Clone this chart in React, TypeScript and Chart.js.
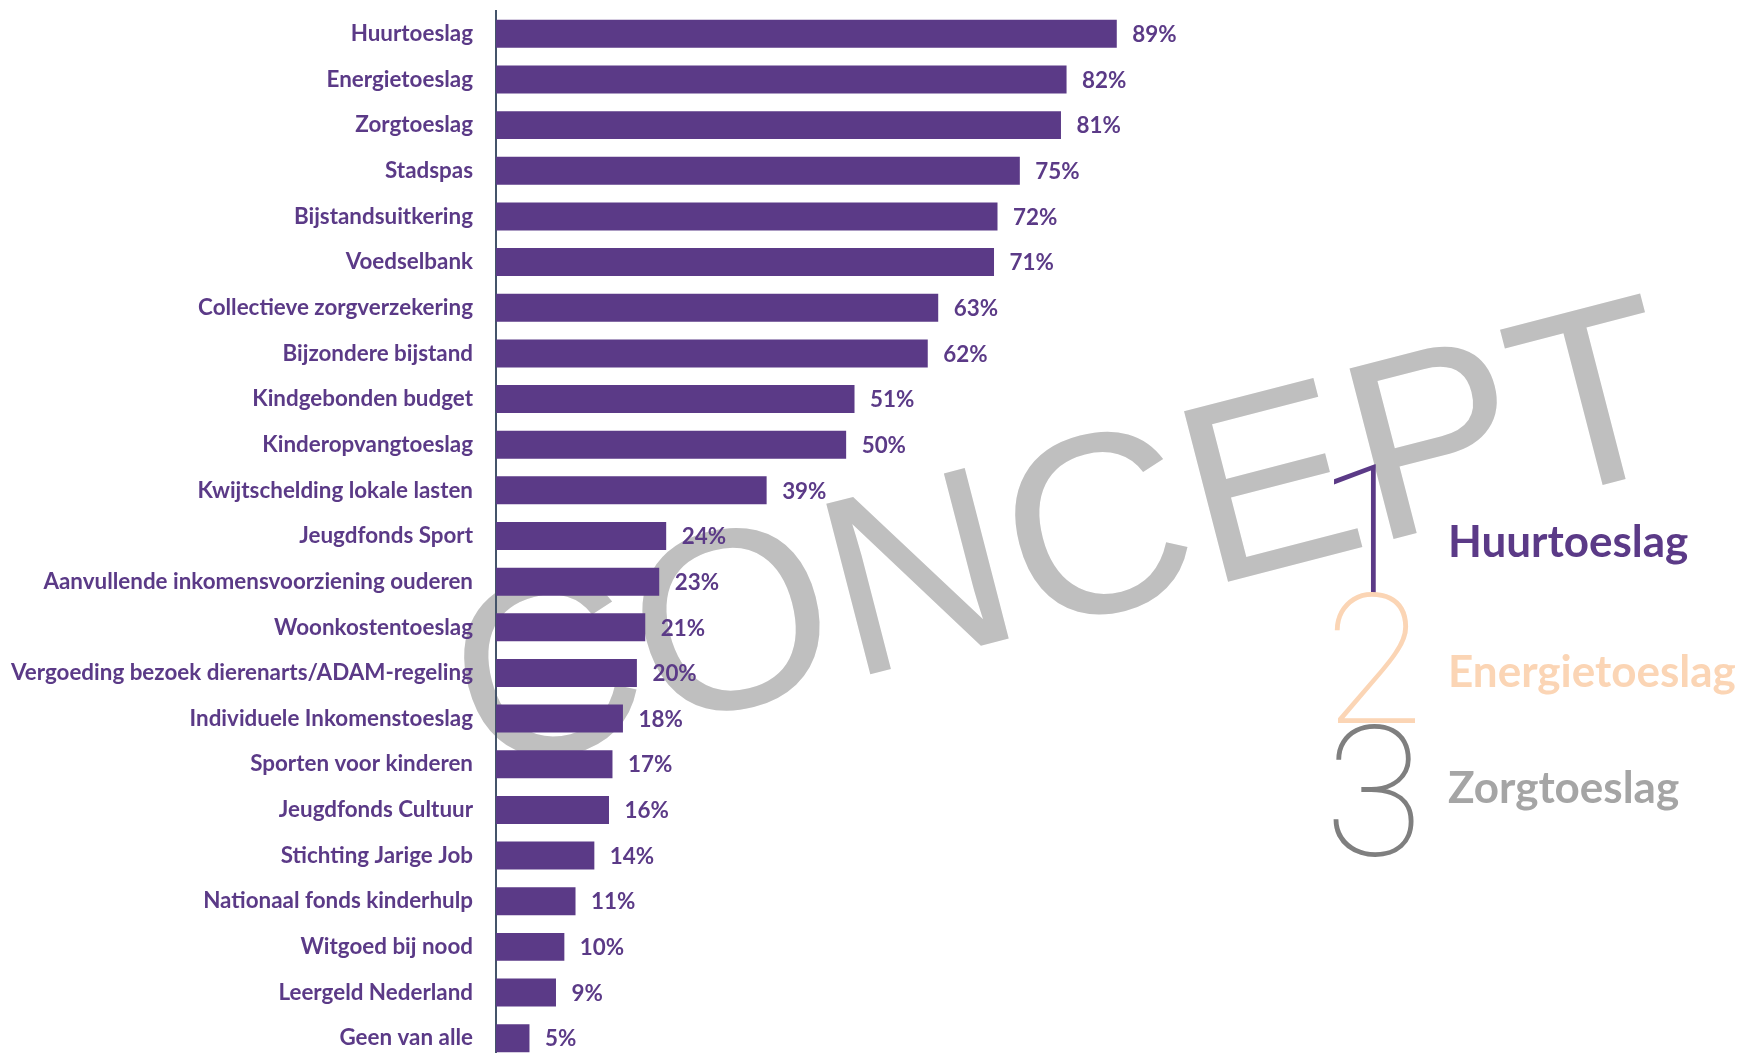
import React, { useEffect, useRef } from 'react';
import { Chart, registerables } from 'chart.js';

Chart.register(...registerables);

// ---- data ----
const categories: string[] = [
  'Huurtoeslag',
  'Energietoeslag',
  'Zorgtoeslag',
  'Stadspas',
  'Bijstandsuitkering',
  'Voedselbank',
  'Collectieve zorgverzekering',
  'Bijzondere bijstand',
  'Kindgebonden budget',
  'Kinderopvangtoeslag',
  'Kwijtschelding lokale lasten',
  'Jeugdfonds Sport',
  'Aanvullende inkomensvoorziening ouderen',
  'Woonkostentoeslag',
  'Vergoeding bezoek dierenarts/ADAM-regeling',
  'Individuele Inkomenstoeslag',
  'Sporten voor kinderen',
  'Jeugdfonds Cultuur',
  'Stichting Jarige Job',
  'Nationaal fonds kinderhulp',
  'Witgoed bij nood',
  'Leergeld Nederland',
  'Geen van alle',
];

const values: number[] = [
  89.0, 81.8, 81.0, 75.1, 71.9, 71.4, 63.4, 61.9, 51.4, 50.2, 38.8, 24.4, 23.4,
  21.4, 20.2, 18.2, 16.7, 16.2, 14.1, 11.4, 9.8, 8.6, 4.8,
];

const valueLabels: string[] = values.map((v) => `${Math.round(v)}%`);

const legendRanks: string[] = ['1', '2', '3'];
const legendNames: string[] = ['Huurtoeslag', 'Energietoeslag', 'Zorgtoeslag'];

const watermarkText = 'CONCEPT';

// ---- styles ----
const PURPLE = '#5B3A87';
const PEACH = '#FBD5B5';
const LEGEND_GRAY = '#A5A5A5';
const DIGIT_GRAY = '#7F7F7F';
const AXIS = '#44546A';
const WATERMARK = '#BFBFBF';
const LABEL_FONT = 'Lato, "Open Sans", sans-serif';
const LABEL_SIZE = 22.4;

const W = 1740;
const H = 1061;

const watermarkPlugin = {
  id: 'watermark',
  beforeDraw(chart: any) {
    const ctx = chart.ctx;
    ctx.save();
    ctx.translate(1084, 619);
    ctx.rotate((-14.5 * Math.PI) / 180);
    ctx.font = '256px "Liberation Sans", Arial, sans-serif';
    ctx.fillStyle = WATERMARK;
    ctx.textAlign = 'center';
    ctx.textBaseline = 'alphabetic';
    ctx.fillText(watermarkText, 0, 0);
    ctx.restore();
  },
};

const valueLabelPlugin = {
  id: 'valueLabels',
  afterDatasetsDraw(chart: any) {
    const ctx = chart.ctx;
    const meta = chart.getDatasetMeta(0);
    ctx.save();
    ctx.font = `bold ${LABEL_SIZE}px ${LABEL_FONT}`;
    ctx.fillStyle = PURPLE;
    ctx.textAlign = 'left';
    ctx.textBaseline = 'middle';
    meta.data.forEach((bar: any, i: number) => {
      ctx.fillText(valueLabels[i], bar.x + 15.5, bar.y + 1);
    });
    ctx.restore();
  },
};

const rankLegendPlugin = {
  id: 'rankLegend',
  afterDraw(chart: any) {
    const ctx = chart.ctx;
    const digitColors = [PURPLE, PEACH, DIGIT_GRAY];
    const digitX = [1367, 1374, 1374];
    const digitBase = [594, 723, 855];
    const nameColors = [PURPLE, PEACH, LEGEND_GRAY];
    const nameBase = [557, 687, 803];
    ctx.save();
    ctx.textAlign = 'center';
    ctx.textBaseline = 'alphabetic';
    ctx.font = '100 181px Roboto, "DejaVu Sans", sans-serif';
    legendRanks.forEach((d, i) => {
      ctx.fillStyle = digitColors[i];
      ctx.fillText(d, digitX[i], digitBase[i]);
    });
    ctx.textAlign = 'left';
    ctx.font = `bold 44px ${LABEL_FONT}`;
    legendNames.forEach((n, i) => {
      ctx.fillStyle = nameColors[i];
      ctx.fillText(n, 1448, nameBase[i]);
    });
    ctx.restore();
  },
};

function BarChart() {
  const ref = useRef<HTMLCanvasElement | null>(null);

  useEffect(() => {
    if (!ref.current) return;
    const chart = new Chart(ref.current, {
      type: 'bar',
      data: {
        labels: categories,
        datasets: [
          {
            data: values,
            backgroundColor: PURPLE,
            borderWidth: 0,
            barPercentage: 1,
            categoryPercentage: 0.613,
          },
        ],
      },
      options: {
        indexAxis: 'y',
        responsive: false,
        animation: false,
        devicePixelRatio: 1,
        layout: { padding: { left: 0, right: W - 1193.5, top: 11, bottom: 0 } },
        scales: {
          x: { type: 'linear', min: 0, max: 100, display: false },
          y: {
            type: 'category',
            grid: { display: false, drawTicks: false },
            border: { display: true, color: AXIS, width: 2 },
            ticks: {
              autoSkip: false,
              color: PURPLE,
              padding: 23,
              font: { family: LABEL_FONT, weight: 'bold', size: LABEL_SIZE },
            },
            afterFit: (scale: any) => {
              scale.width = 496;
              scale.paddingTop = 0;
              scale.paddingBottom = 0;
            },
          },
        },
        plugins: {
          legend: { display: false },
          tooltip: { enabled: false },
        },
      },
      plugins: [watermarkPlugin, valueLabelPlugin, rankLegendPlugin],
    } as any);
    return () => chart.destroy();
  }, []);

  return <canvas ref={ref} width={W} height={H} style={{ display: 'block', width: W, height: H }} />;
}

export default function App() {
  return (
    <div
      style={{
        position: 'absolute',
        top: 0,
        left: 0,
        width: W,
        height: 1053,
        overflow: 'hidden',
        background: '#ffffff',
      }}
    >
      <BarChart />
    </div>
  );
}
